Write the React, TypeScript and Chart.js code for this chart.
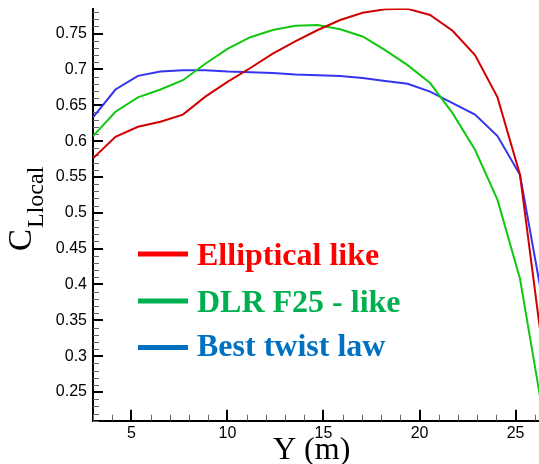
import { useEffect, useRef } from "react";
import { Chart, registerables } from "chart.js";

Chart.register(...registerables);

const W = 539;
const H = 464;

// Spanwise stations (m)
const xStations = [3.0, 4.17, 5.34, 6.51, 7.68, 8.85, 10.02, 11.19, 12.36, 13.53, 14.7, 15.87, 17.04, 18.21, 19.38, 20.55, 21.72, 22.89, 24.06, 25.23, 26.4];

const ellipticalValues = [0.576, 0.606, 0.62, 0.627, 0.637, 0.662, 0.683, 0.702, 0.722, 0.739, 0.755, 0.769, 0.779, 0.784, 0.7845, 0.776, 0.754, 0.72, 0.661, 0.553, 0.311];
const dlrValues = [0.607, 0.641, 0.661, 0.672, 0.685, 0.708, 0.729, 0.745, 0.755, 0.761, 0.762, 0.756, 0.746, 0.727, 0.706, 0.681, 0.639, 0.588, 0.518, 0.408, 0.224];
const bestTwistValues = [0.633, 0.672, 0.691, 0.697, 0.699, 0.699, 0.697, 0.696, 0.695, 0.693, 0.692, 0.691, 0.688, 0.684, 0.68, 0.669, 0.653, 0.637, 0.607, 0.553, 0.379];

const seriesNames = ["Elliptical like", "DLR F25 - like", "Best twist law"];
const seriesValues = [ellipticalValues, dlrValues, bestTwistValues];
const lineColors = ["#d20000", "#10c810", "#3434f0"];
const legendColors = ["#ff0000", "#00b050", "#0070c0"];

const xTickValues = [5, 10, 15, 20, 25];
const xTickLabels = ["5", "10", "15", "20", "25"];
const yTickValues = [0.25, 0.3, 0.35, 0.4, 0.45, 0.5, 0.55, 0.6, 0.65, 0.7, 0.75];
const yTickLabels = ["0.25", "0.3", "0.35", "0.4", "0.45", "0.5", "0.55", "0.6", "0.65", "0.7", "0.75"];

const X_MIN = 3;
const X_MAX = 26.22;
const Y_MIN = 0.21;
const Y_MAX = 0.785;

const decor = {
  id: "decor",
  beforeDatasetsDraw(chart: any) {
    const { ctx, chartArea, scales } = chart;
    const xs = scales.x;
    const ys = scales.y;
    ctx.save();
    // y ticks (inward)
    for (let k = Math.ceil(Y_MIN * 100); k <= Math.floor(Y_MAX * 100); k++) {
      const v = k / 100;
      const major = k % 5 === 0;
      const py = Math.round(ys.getPixelForValue(v)) + 0.5;
      ctx.beginPath();
      ctx.strokeStyle = major ? "#000" : "#666";
      ctx.lineWidth = major ? 2 : 1;
      ctx.moveTo(chartArea.left, major ? Math.round(py - 0.5) : py);
      ctx.lineTo(chartArea.left + (major ? 10 : 6), major ? Math.round(py - 0.5) : py);
      ctx.stroke();
    }
    // x ticks (inward)
    for (let k = Math.ceil(X_MIN); k <= Math.floor(X_MAX); k++) {
      const major = k % 5 === 0;
      const px = Math.round(xs.getPixelForValue(k)) + 0.5;
      ctx.beginPath();
      ctx.strokeStyle = major ? "#000" : "#666";
      ctx.lineWidth = major ? 2 : 1;
      const xx = major ? Math.round(px - 0.5) : px;
      ctx.moveTo(xx, chartArea.bottom);
      ctx.lineTo(xx, chartArea.bottom - (major ? 11 : 6));
      ctx.stroke();
    }
    ctx.restore();
  },
  afterDraw(chart: any) {
    const { ctx, chartArea } = chart;
    ctx.save();
    // Legend inside the plot
    const lineY = [254, 301, 347.5];
    const baseY = [264.5, 311.5, 356];
    for (let i = 0; i < seriesNames.length; i++) {
      ctx.strokeStyle = legendColors[i];
      ctx.lineWidth = 5;
      ctx.beginPath();
      ctx.moveTo(chartArea.left + 45, lineY[i]);
      ctx.lineTo(chartArea.left + 95, lineY[i]);
      ctx.stroke();
      ctx.fillStyle = legendColors[i];
      ctx.font = "bold 32px 'Liberation Serif'";
      ctx.textAlign = "left";
      ctx.textBaseline = "alphabetic";
      ctx.fillText(seriesNames[i], chartArea.left + 104, baseY[i]);
    }
    // X axis title
    ctx.fillStyle = "#000";
    ctx.font = "32px 'Liberation Serif'";
    ctx.textBaseline = "alphabetic";
    ctx.textAlign = "left";
    ctx.fillText("Y (m)", 273, 459);
    // Y axis title: C with subscript "Llocal"
    ctx.save();
    ctx.translate(31, 251);
    ctx.rotate(-Math.PI / 2);
    ctx.font = "33px 'Liberation Serif'";
    ctx.fillText("C", 0, 0);
    const cw = ctx.measureText("C").width;
    ctx.font = "24px 'Liberation Serif'";
    ctx.fillText("Llocal", cw + 1, 12);
    ctx.restore();
    ctx.restore();
  },
};

export default function App() {
  const ref = useRef<HTMLCanvasElement>(null);
  useEffect(() => {
    const canvas = ref.current;
    if (!canvas) return;
    const chart = new Chart(canvas, {
      type: "line",
      data: {
        datasets: seriesNames.map((name, i) => ({
          label: name,
          data: xStations.map((x, j) => ({ x, y: seriesValues[i][j] })),
          borderColor: lineColors[i],
          backgroundColor: lineColors[i],
          borderWidth: 2,
          pointRadius: 0,
          tension: 0,
          fill: false,
        })),
      },
      options: {
        responsive: false,
        animation: false,
        devicePixelRatio: 1,
        layout: { padding: { top: 8.5, left: 0, right: 0, bottom: 0 } },
        plugins: { legend: { display: false }, tooltip: { enabled: false } },
        scales: {
          x: {
            type: "linear",
            min: X_MIN,
            max: X_MAX,
            afterBuildTicks: (s: any) => {
              s.ticks = xTickValues.map((v) => ({ value: v }));
            },
            afterFit: (s: any) => {
              s.height = 43.3;
              s.paddingLeft = 0;
              s.paddingRight = 0;
            },
            grid: { display: false, drawTicks: false },
            border: { display: true, color: "#000", width: 2 },
            ticks: {
              color: "#000",
              font: { family: "'Liberation Sans'", size: 16 },
              padding: 3,
              maxRotation: 0,
              autoSkip: false,
              callback: (v: any) => {
                const idx = xTickValues.indexOf(Number(v));
                return idx >= 0 ? xTickLabels[idx] : "";
              },
            },
          },
          y: {
            type: "linear",
            min: Y_MIN,
            max: Y_MAX,
            afterBuildTicks: (s: any) => {
              s.ticks = yTickValues.map((v) => ({ value: v }));
            },
            afterFit: (s: any) => {
              s.width = 93;
              s.paddingTop = 0;
              s.paddingBottom = 0;
            },
            grid: { display: false, drawTicks: false },
            border: { display: true, color: "#000", width: 2 },
            ticks: {
              color: "#000",
              font: { family: "'Liberation Sans'", size: 16 },
              padding: 6,
              autoSkip: false,
              callback: (v: any) => {
                const idx = yTickValues.findIndex((t) => Math.abs(t - Number(v)) < 1e-9);
                return idx >= 0 ? yTickLabels[idx] : "";
              },
            },
          },
        },
      },
      plugins: [decor],
    });
    return () => chart.destroy();
  }, []);
  return (
    <div style={{ position: "fixed", left: 0, top: 0, width: W, height: H, background: "#fff" }}>
      <canvas ref={ref} width={W} height={H} style={{ display: "block", width: W, height: H }} />
    </div>
  );
}
